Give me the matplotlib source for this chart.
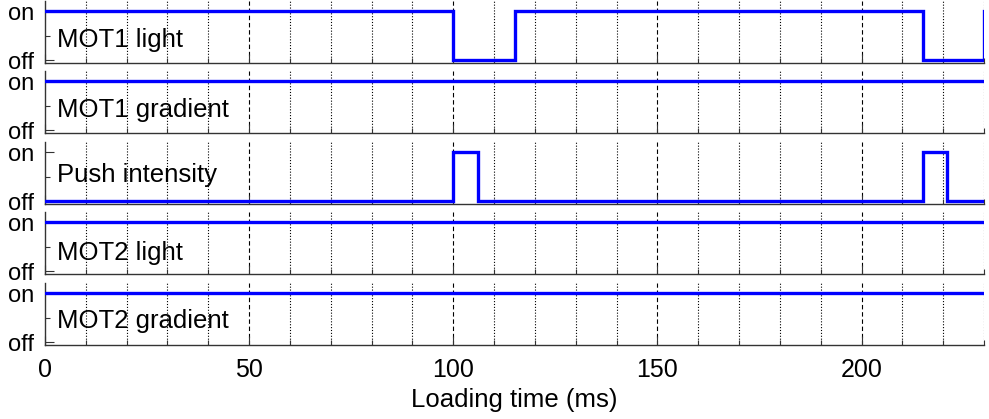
import matplotlib
matplotlib.use("Agg")
import matplotlib.pyplot as plt
from matplotlib.ticker import MultipleLocator, FixedLocator

plt.rcParams['font.family'] = ['Liberation Sans', 'DejaVu Sans']

# Timing sequence (ms) and states (1 = on, 0 = off) for each channel
mot1_light_t = [0, 100, 115, 215, 230, 240]
mot1_light_s = [1, 0, 1, 0, 1, 1]

mot1_grad_t = [0, 240]
mot1_grad_s = [1, 1]

push_t = [0, 100, 106, 215, 221, 240]
push_s = [0, 1, 0, 1, 0, 0]

mot2_light_t = [0, 240]
mot2_light_s = [1, 1]

mot2_grad_t = [0, 240]
mot2_grad_s = [1, 1]

channels = [
    ("MOT1 light", mot1_light_t, mot1_light_s, 0.265),
    ("MOT1 gradient", mot1_grad_t, mot1_grad_s, 0.27),
    ("Push intensity", push_t, push_s, 0.39),
    ("MOT2 light", mot2_light_t, mot2_light_s, 0.23),
    ("MOT2 gradient", mot2_grad_t, mot2_grad_s, 0.28),
]

state_ticks = [0, 1]
state_labels = ["off", "on"]
x_major = [0, 50, 100, 150, 200]
x_max = 230
xlabel = "Loading time (ms)"

W, H = 989, 419
fig = plt.figure(figsize=(W / 100, H / 100), dpi=100)

left = 45 / W
width = (984 - 45) / W
ymin, ymax = -0.06, 1.2
unit_px = 49
ax_h_px = (ymax - ymin) * unit_px
bottoms_px = [63, 133, 204, 274, 345]

spine_col = '0.2'
axes = []
for i, (name, t, s, ty) in enumerate(channels):
    b = 1 - bottoms_px[i] / H
    ax = fig.add_axes([left, b, width, ax_h_px / H])
    axes.append(ax)
    ax.step(t, s, where='post', color=(0, 0, 1), lw=2.4, solid_joinstyle='miter', zorder=3)
    ax.set_xlim(0, x_max)
    ax.set_ylim(ymin, ymax)

    # vertical grid: dotted every 10 ms, dashed every 50 ms
    for xv in range(10, x_max + 1, 10):
        if xv % 50 == 0:
            ax.axvline(xv, color='k', lw=0.8, ls=(0, (4, 2.5)), zorder=1)
        else:
            ax.axvline(xv, color='k', lw=0.8, ls=(0, (1, 1.6)), zorder=1)

    ax.xaxis.set_major_locator(FixedLocator(x_major))
    ax.xaxis.set_minor_locator(MultipleLocator(10))
    ax.yaxis.set_major_locator(FixedLocator(state_ticks))
    ax.yaxis.set_minor_locator(FixedLocator([0.5]))
    ax.set_yticklabels(state_labels)

    ax.tick_params(axis='both', which='major', direction='in', length=6.5, width=0.8,
                   color=spine_col, top=False, right=False)
    ax.tick_params(axis='x', which='major', labelsize=18, pad=9)
    ax.tick_params(axis='y', which='major', labelsize=17, pad=8)
    ax.tick_params(axis='both', which='minor', direction='in', length=3.3, width=0.8,
                   color=spine_col, top=False, right=False)

    for side in ('top', 'right'):
        ax.spines[side].set_visible(False)
    for side in ('left', 'bottom'):
        ax.spines[side].set_color(spine_col)
        ax.spines[side].set_linewidth(1.0)

    if i < len(channels) - 1:
        ax.set_xticklabels([])

    ax.text(3, ty, name, fontsize=18.5, ha='left', va='baseline', zorder=2)

axes[-1].set_xticklabels([str(v) for v in x_major])
axes[-1].set_xlabel(xlabel, fontsize=18.5, labelpad=5)

fig.savefig("out.png", dpi=100)
